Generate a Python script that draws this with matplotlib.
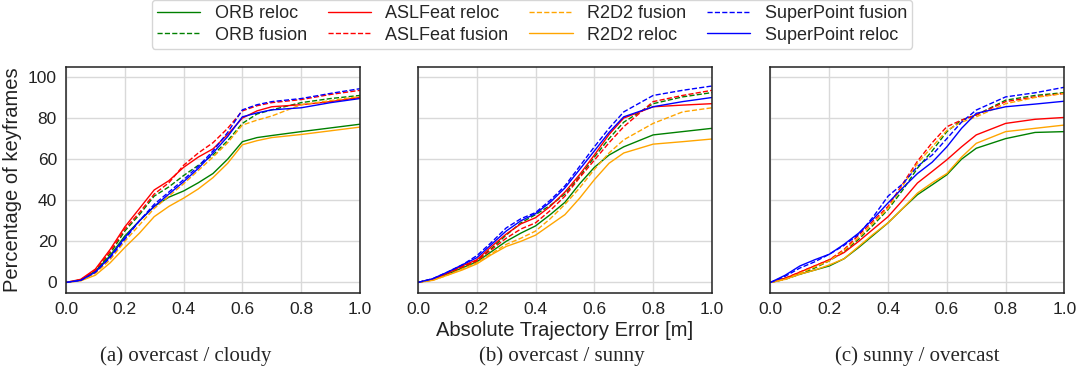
import matplotlib
matplotlib.use("Agg")
import matplotlib.pyplot as plt
import seaborn as sns

sns.set_style("whitegrid")
plt.rcParams['font.family'] = ['Liberation Sans', 'DejaVu Sans']

# ATE thresholds [m]
ate = [0, 0.05, 0.1, 0.15, 0.2, 0.25, 0.3, 0.35, 0.4, 0.45, 0.5, 0.55, 0.6, 0.65, 0.7, 0.8, 0.9, 1.0]

captions = ["(a) overcast / cloudy", "(b) overcast / sunny", "(c) sunny / overcast"]

# percentage of keyframes below threshold, one list per panel (a, b, c)
orb_reloc = [
    [0, 1.2, 5.5, 13, 22.6, 30, 37, 41.5, 44.5, 48.5, 53, 60, 68.5, 70.5, 71.5, 73.4, 75.2, 77],
    [0, 1.5, 4, 7, 10, 15, 20, 24, 27.5, 33, 39, 48, 56, 62, 66, 71.8, 73.4, 75],
    [0, 2, 4, 6, 8, 11.5, 17, 23, 29, 36, 42.7, 47.5, 52.4, 60, 65.3, 70, 73, 73.4],
]
orb_fusion = [
    [0, 1.2, 5.5, 14, 25, 33, 42, 46.5, 52, 57, 62, 69, 77.4, 82, 84, 87.5, 89.5, 91],
    [0, 1.5, 4.5, 7.5, 10.5, 16.5, 23, 29, 33, 37.5, 43, 51.5, 61, 70, 78, 87, 90.3, 92.4],
    [0, 1.5, 4, 7, 10.5, 15, 21, 28, 35.5, 45, 55.6, 64, 73.4, 79, 81.5, 88.7, 91, 92.4],
]
asl_reloc = [
    [0, 1.5, 6.5, 16, 27, 36, 45, 49.5, 56, 61, 65, 72, 80, 83.5, 85.5, 86.5, 88, 90],
    [0, 1.5, 4.5, 8, 11, 17.5, 23.5, 28.5, 31.5, 37, 44, 52.5, 62, 72, 80, 85.5, 86.3, 87],
    [0, 2, 5, 8, 11, 14.5, 20, 26, 32, 40, 48.4, 54, 59.7, 66, 71.8, 77.4, 79.4, 80.3],
]
asl_fusion = [
    [0, 1.2, 6, 15, 26, 34, 43, 48.5, 57, 63, 68, 75, 83.5, 86, 87.5, 89, 91.5, 93.5],
    [0, 1.5, 4.5, 7.5, 10.5, 16, 21.5, 26, 29, 35, 42, 51, 59.5, 68, 75.8, 88, 91, 93.5],
    [0, 2, 5, 8, 11, 16, 23, 30, 37, 48, 59, 68, 75.8, 79, 81.5, 88, 90.3, 92],
]
r2d2_fusion = [
    [0, 0.8, 4.5, 11, 20, 28, 36, 42, 48, 54.5, 61, 68, 76.6, 79, 81, 86.5, 88.5, 90.5],
    [0, 1, 3.5, 6.5, 9.5, 14, 18.5, 21.5, 25, 31, 38, 46, 55, 63, 69.4, 77.4, 83, 85],
    [0, 1.5, 4.5, 7.5, 10.5, 15.5, 21.8, 29, 36, 47, 58, 66, 74, 78, 80.6, 87, 90, 92],
]
r2d2_reloc = [
    [0, 0.8, 3.5, 9.5, 17, 24, 32, 37, 41, 45.5, 51, 58, 67, 69, 70.5, 72, 73.8, 75.6],
    [0, 1, 3.5, 6, 9, 13.5, 17.5, 20, 23, 28, 33, 41, 50, 58, 63, 67.3, 68.5, 69.8],
    [0, 1.5, 4, 6, 8.5, 11.5, 17.5, 23.5, 29, 36, 43.5, 48.5, 53, 61, 67.7, 73.4, 75, 76.6],
]
sp_fusion = [
    [0, 1, 5, 12, 21, 30, 38, 44, 50, 56.5, 64, 73, 84, 86.5, 88, 89.5, 92, 94.3],
    [0, 1.8, 5, 8.5, 13, 19.5, 26.5, 31, 34, 40, 47, 56.5, 66, 75, 83, 91, 93.5, 95.6],
    [0, 3, 7, 10, 13.7, 18, 23.4, 32, 42, 48, 56.5, 62, 70, 78, 83.9, 90.3, 92.3, 95],
]
sp_reloc = [
    [0, 1, 5, 12.5, 21.8, 30, 37, 43, 49, 55.5, 63, 71, 80.6, 82.5, 84, 85, 87.5, 89.5],
    [0, 1.8, 5, 8.5, 12, 18.5, 25, 30, 33.5, 39, 46, 55, 64, 73, 80.6, 85.5, 88, 90],
    [0, 3.5, 8, 11, 13.7, 18.5, 24, 31, 38.7, 46, 53, 58.5, 66, 75, 82.3, 85.5, 86.8, 88.2],
]

series = [
    ("ORB reloc", orb_reloc, "green", "-"),
    ("ORB fusion", orb_fusion, "green", "--"),
    ("ASLFeat reloc", asl_reloc, "red", "-"),
    ("ASLFeat fusion", asl_fusion, "red", "--"),
    ("R2D2 fusion", r2d2_fusion, "orange", "--"),
    ("R2D2 reloc", r2d2_reloc, "orange", "-"),
    ("SuperPoint fusion", sp_fusion, "blue", "--"),
    ("SuperPoint reloc", sp_reloc, "blue", "-"),
]

fig = plt.figure(figsize=(10.8, 3.73), dpi=100)
lefts = [0.0611, 0.387, 0.7134]
axes = [fig.add_axes([l, 0.2153, 0.2722, 0.6059]) for l in lefts]

for i, ax in enumerate(axes):
    for name, vals, col, ls in series:
        ax.plot(ate, vals[i], color=col, linestyle=ls, linewidth=1.0, label=name)
    ax.set_xlim(0, 1)
    ax.set_ylim(-5, 105)
    ax.set_xticks([0, 0.2, 0.4, 0.6, 0.8, 1.0])
    ax.set_yticks([0, 20, 40, 60, 80, 100])
    ax.grid(True, color="#d9d9d9", linewidth=1.0)
    for s in ax.spines.values():
        s.set_color("#222222")
        s.set_linewidth(1.1)
    ax.tick_params(labelsize=12.5, pad=3, labelcolor="#222222")
    if i > 0:
        ax.set_yticklabels([])

axes[0].set_ylabel("Percentage of keyframes", fontsize=14.5, labelpad=4, color="#222222")
axes[1].set_xlabel("Absolute Trajectory Error [m]", fontsize=14.5, labelpad=3, color="#222222")

for x, cap in zip([0.172, 0.52, 0.849], captions):
    fig.text(x, 0.02, cap, ha="center", va="bottom", fontsize=15,
             family=["Liberation Serif", "DejaVu Serif"])

handles, labels = axes[0].get_legend_handles_labels()
fig.legend(handles, labels, ncol=4, loc="lower left",
           bbox_to_anchor=(0.132, 0.8445, 0.721, 0.147), mode="expand",
           fontsize=13, frameon=True, edgecolor="#cccccc", fancybox=True,
           handlelength=2.4, borderpad=0.3, labelspacing=0.25)

plt.savefig("out.png", dpi=100)
